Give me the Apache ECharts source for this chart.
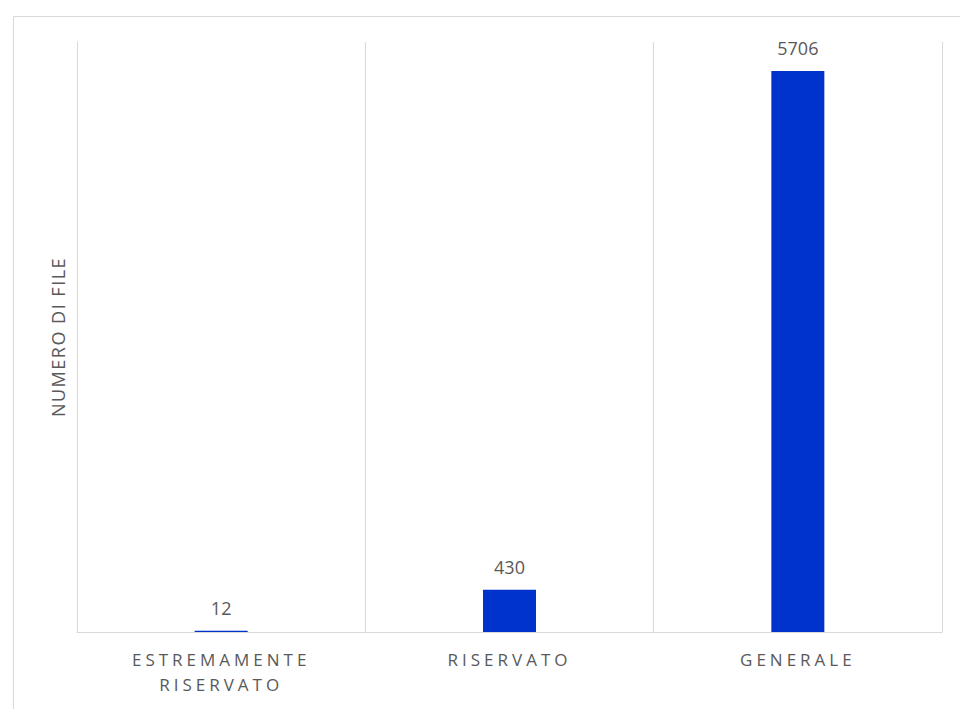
<!DOCTYPE html>
<html>
<head>
<meta charset="utf-8">
<script src="https://cdn.jsdelivr.net/npm/echarts@6/dist/echarts.min.js"></script>
<style>
html,body{margin:0;padding:0;background:#fff;}
#chart{width:960px;height:709px;}
</style>
</head>
<body>
<div id="chart"></div>
<script>
const categories = ['ESTREMAMENTE\nRISERVATO', 'RISERVATO', 'GENERALE'];
const values = [12, 430, 5706];
const yAxisName = 'NUMERO DI FILE';

const chart = echarts.init(document.getElementById('chart'), null, {renderer: 'svg'});
const font = '"Open Sans", "Noto Sans", sans-serif';
chart.setOption({
  animation: false,
  backgroundColor: '#ffffff',
  graphic: [{
    type: 'rect', left: 11, top: 14, silent: true,
    shape: {width: 1100, height: 1100},
    style: {fill: 'none', stroke: '#d9d9d9', lineWidth: 1}
  }],
  grid: {left: 77, right: 18, top: 42, bottom: 77, containLabel: false},
  xAxis: {
    type: 'category',
    data: categories,
    boundaryGap: true,
    axisLine: {show: true, lineStyle: {color: '#d9d9d9', width: 1}},
    axisTick: {show: false},
    splitLine: {show: true, lineStyle: {color: '#d9d9d9', width: 1}},
    axisLabel: {color: '#595959', fontSize: 17, fontFamily: font, lineHeight: 25, margin: 15, interval: 0}
  },
  yAxis: {
    type: 'value',
    min: 0, max: 6000,
    name: yAxisName,
    nameLocation: 'middle',
    nameRotate: 90,
    nameGap: 10,
    nameTextStyle: {color: '#595959', fontSize: 18, fontFamily: font},
    axisLine: {show: true, lineStyle: {color: '#d9d9d9'}},
    axisTick: {show: false},
    axisLabel: {show: false},
    splitLine: {show: false}
  },
  series: [{
    type: 'bar',
    data: values,
    barWidth: 53,
    itemStyle: {color: '#0033cc'},
    label: {show: true, position: 'top', distance: 14, color: '#595959', fontSize: 18, fontFamily: font}
  }]
});

function spaceLetters(){
  const words = ['ESTREMAMENTE', 'RISERVATO', 'GENERALE'];
  document.querySelectorAll('#chart svg text').forEach(t => {
    const s = t.textContent.trim();
    if (words.indexOf(s) >= 0) {
      t.style.letterSpacing = '4px';
    } else if (s === yAxisName) {
      t.style.letterSpacing = '1.5px';
    }
  });
}
chart.on('finished', spaceLetters);
spaceLetters();
</script>
</body>
</html>
